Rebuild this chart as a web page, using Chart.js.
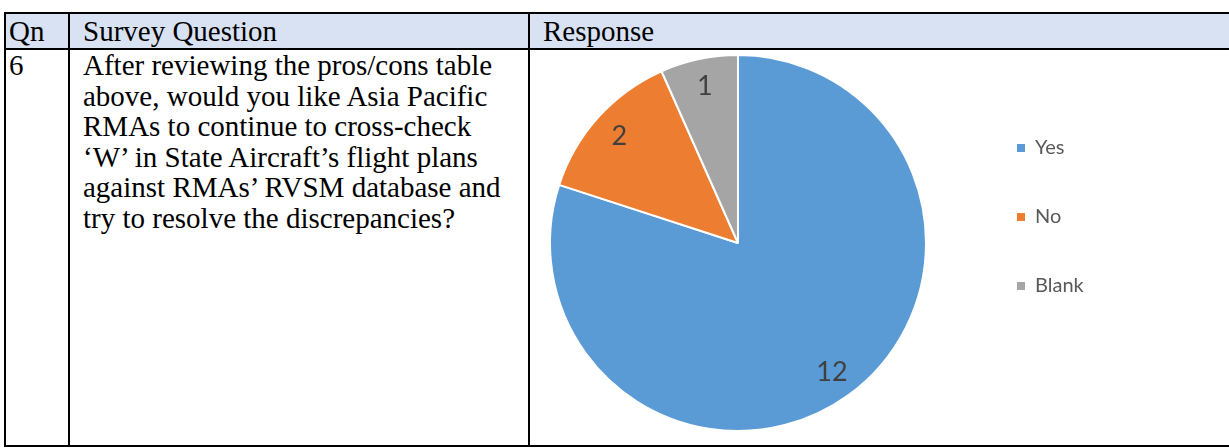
<!DOCTYPE html>
<html>
<head>
<meta charset="utf-8">
<title>Survey response</title>
<script src="https://cdn.jsdelivr.net/npm/chart.js@4.4.1/dist/chart.umd.min.js"></script>
<style>
    html, body { margin: 0; padding: 0; background: #fff; overflow: hidden; }
    body { width: 1229px; height: 448px; position: relative; }
    .tbl {
        position: absolute; left: 4px; top: 12px;
        display: grid;
        grid-template-columns: 64px 460px 732px;
        grid-template-rows: 36px 397px;
        border-left: 2px solid #000; border-top: 2px solid #000;
        font-family: "Liberation Serif", "Times New Roman", serif;
        font-size: 29px; line-height: 30.5px; color: #000;
    }
    .tbl > div {
        box-sizing: border-box;
        border-right: 2px solid #000; border-bottom: 2px solid #000;
        padding: 0 13px;
    }
    .tbl .hd { background: #D9E2F3; padding-top: 2px; }
    .tbl .qn { padding-left: 3px; }
    #chartBox { position: absolute; left: 508px; top: 49px; width: 721px; height: 397px; }
</style>
</head>
<body>
<div class="tbl">
    <div class="hd qn">Qn</div>
    <div class="hd">Survey Question</div>
    <div class="hd">Response</div>
    <div class="qn">6</div>
    <div>After reviewing the pros/cons table above, would you like Asia Pacific RMAs to continue to cross-check ‘W’ in State Aircraft’s flight plans against RMAs’ RVSM database and try to resolve the discrepancies?</div>
    <div></div>
</div>
<div id="chartBox"><canvas id="responseChart"></canvas></div>

<script>
// Survey answers for question 6
const categories = ['Yes', 'No', 'Blank'];
const responses = [12, 2, 1];
const sliceColors = ['#5B9BD5', '#ED7D31', '#A5A5A5'];

// Draw the count inside each slice, like Excel's data labels
const sliceLabels = {
    id: 'sliceLabels',
    afterDatasetsDraw(chart) {
        const ctx = chart.ctx;
        const meta = chart.getDatasetMeta(0);
        const values = chart.data.datasets[0].data;
        ctx.save();
        ctx.font = '27px Lato, "Open Sans", sans-serif';
        ctx.fillStyle = '#404040';
        ctx.textAlign = 'center';
        ctx.textBaseline = 'middle';
        meta.data.forEach(function(arc, i) {
            const p = arc.getProps(['x', 'y', 'startAngle', 'endAngle', 'outerRadius'], true);
            const mid = (p.startAngle + p.endAngle) / 2;
            const r = p.outerRadius * 0.85;
            ctx.fillText(String(values[i]), p.x + Math.cos(mid) * r, p.y + Math.sin(mid) * r);
        });
        ctx.restore();
    }
};

document.addEventListener('DOMContentLoaded', function() {
    const el = document.getElementById('responseChart');
    const baseLabels = Chart.overrides.doughnut.plugins.legend.labels.generateLabels;

    new Chart(el, {
        type: 'pie',
        data: {
            labels: categories,
            datasets: [{
                data: responses,
                backgroundColor: sliceColors,
                borderColor: '#ffffff',
                borderWidth: 2,
                radius: 188,
                clip: false
            }]
        },
        options: {
            responsive: true,
            maintainAspectRatio: false,
            animation: false,
            layout: {
                padding: { left: 0, right: 141, top: 40, bottom: 49 }
            },
            plugins: {
                tooltip: { enabled: false },
                legend: {
                    position: 'right',
                    align: 'start',
                    maxWidth: 120,
                    labels: {
                        boxWidth: 8,
                        boxHeight: 8,
                        padding: 49,
                        color: '#595959',
                        font: { family: 'Lato, "Open Sans", sans-serif', size: 20 },
                        generateLabels: function(chart) {
                            return baseLabels(chart).map(function(item) {
                                item.lineWidth = 0;
                                return item;
                            });
                        }
                    }
                }
            }
        },
        plugins: [sliceLabels]
    });
});
</script>
</body>
</html>
